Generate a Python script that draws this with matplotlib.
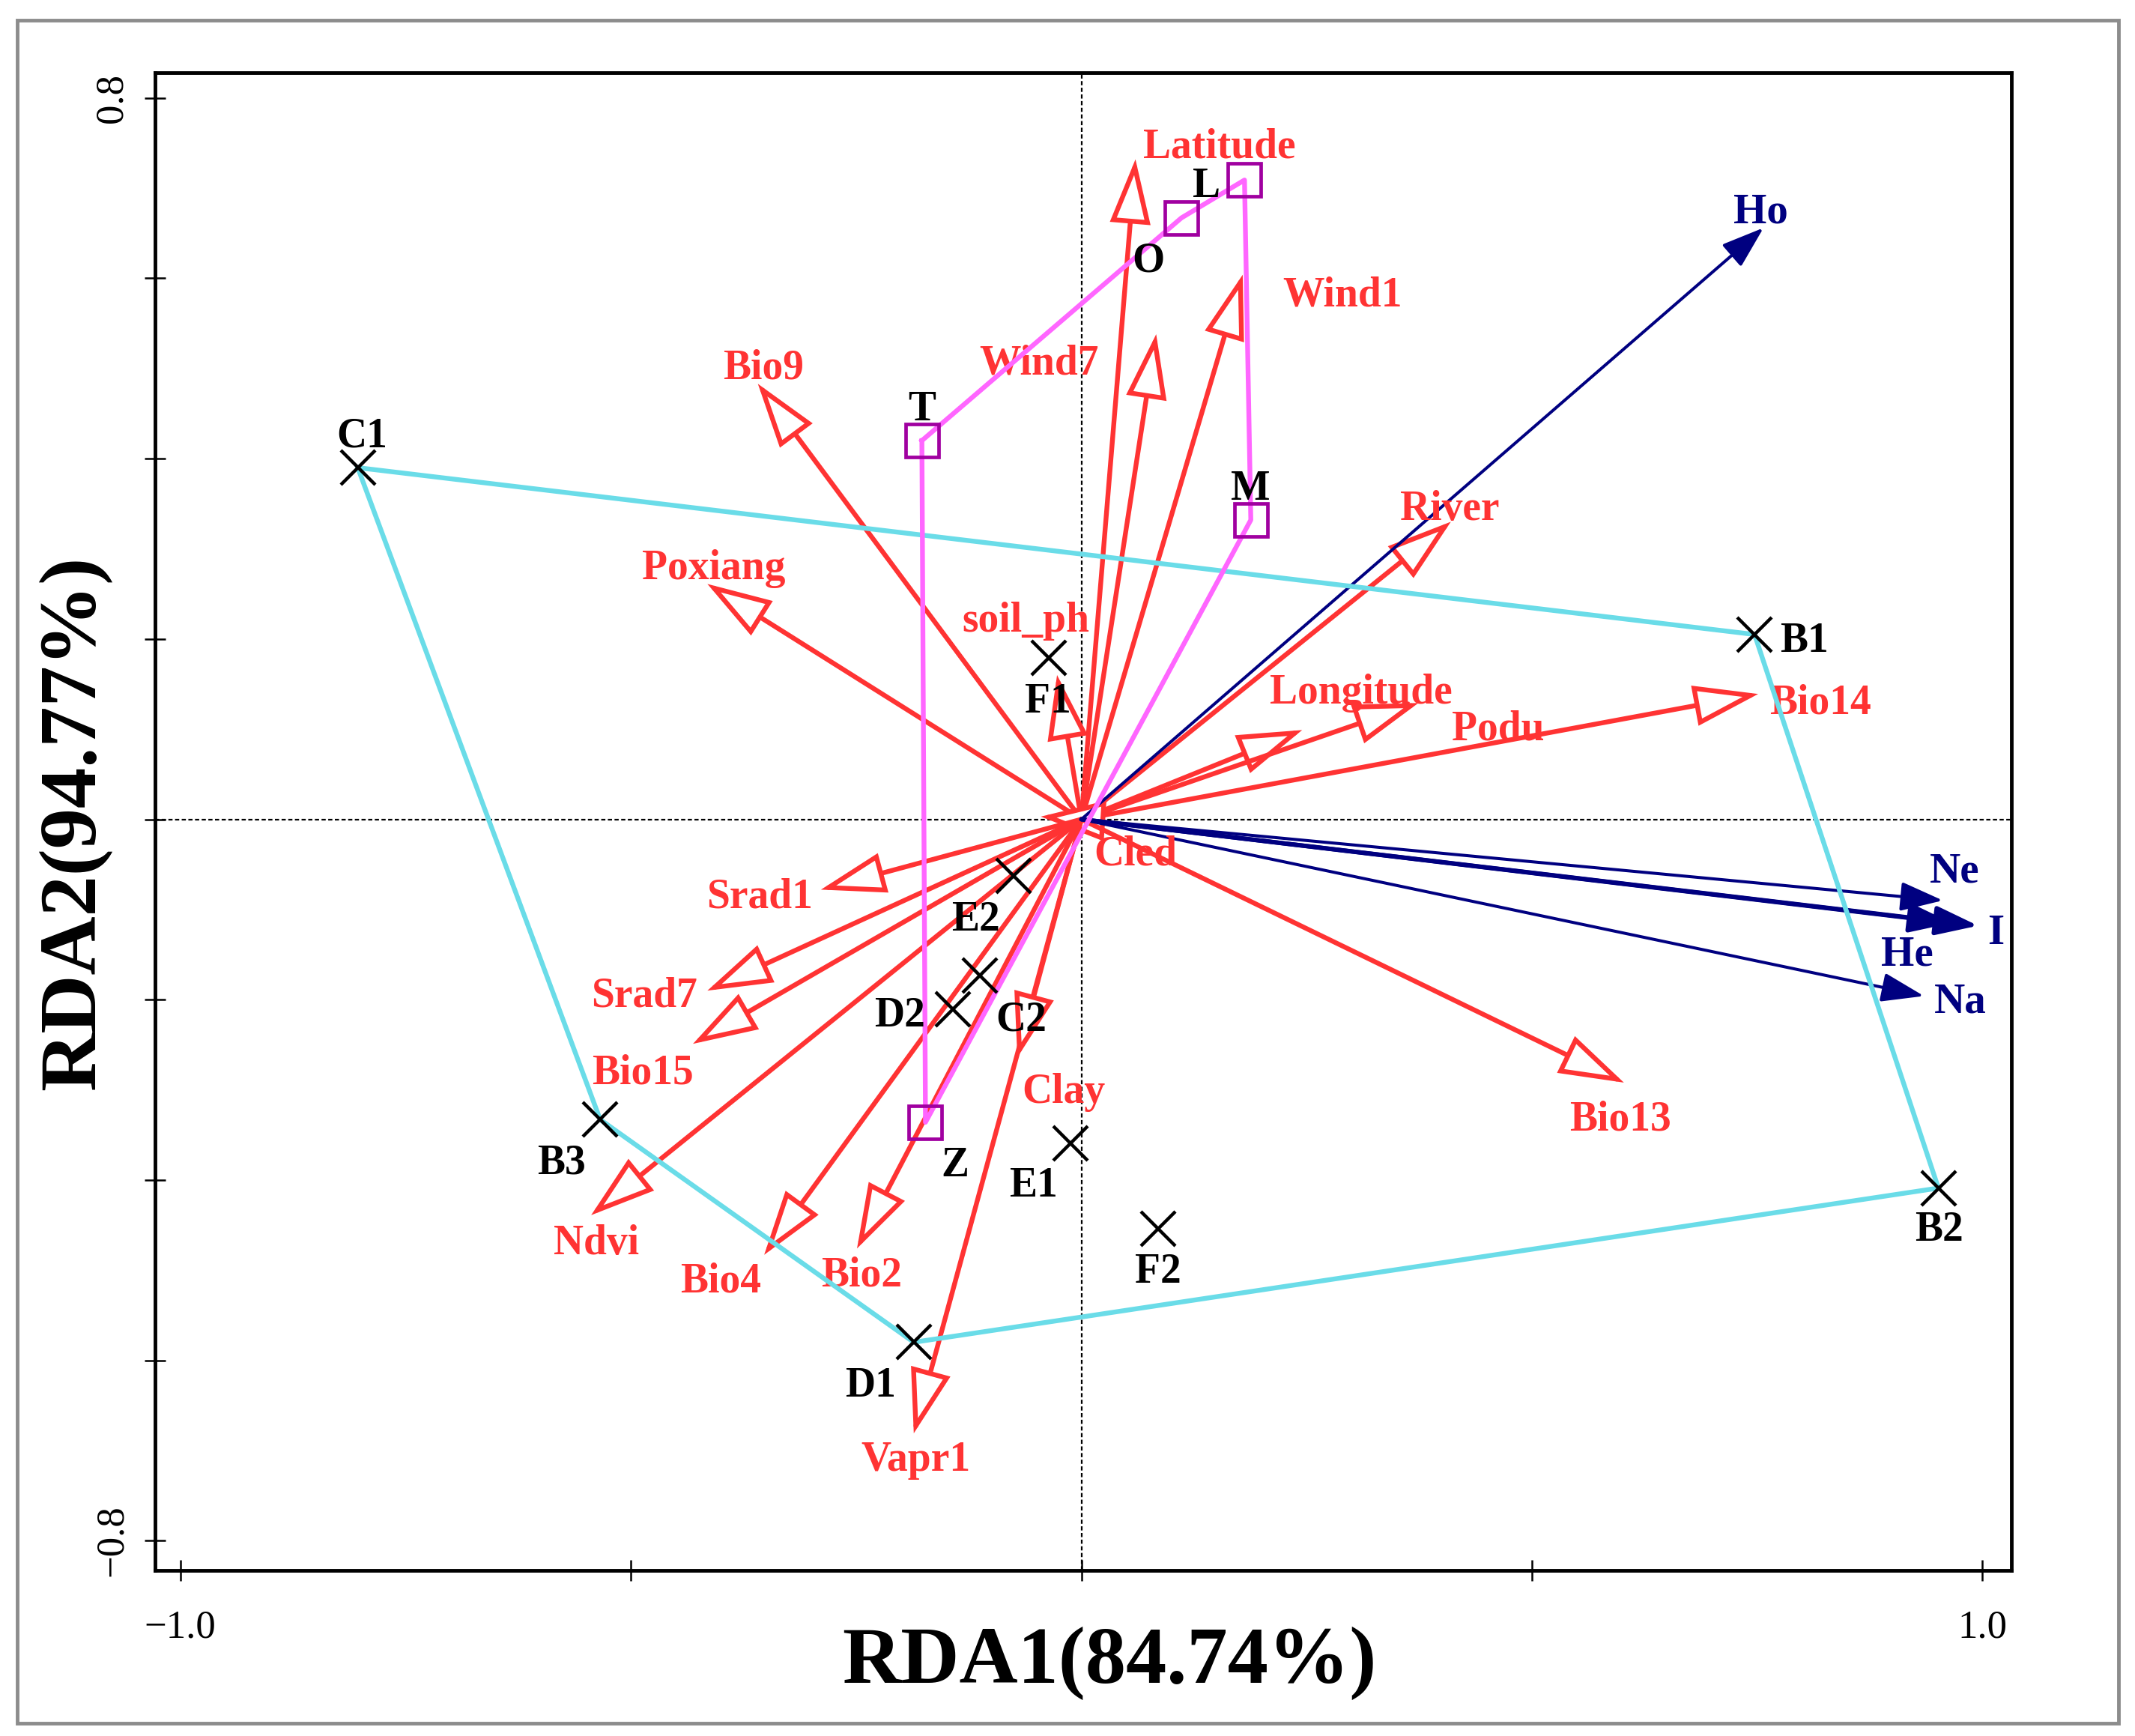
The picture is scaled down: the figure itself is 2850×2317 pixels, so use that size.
import matplotlib
matplotlib.use("Agg")
import matplotlib.pyplot as plt
from matplotlib.patches import FancyArrowPatch, ArrowStyle, Rectangle

plt.rcParams['font.family'] = ['Liberation Serif', 'DejaVu Serif']

# ---------------- data ----------------
env_names = ["Latitude", "Wind7", "Wind1", "Bio9", "Poxiang", "soil_ph", "River",
             "Longitude", "Podu", "Bio14", "Cled", "Srad1", "Srad7", "Bio15",
             "Ndvi", "Bio4", "Bio2", "Vapr1", "Clay", "Bio13"]
env_x = [0.060, 0.083, 0.179, -0.359, -0.415, -0.027, 0.410,
         0.245, 0.374, 0.751, -0.045, -0.289, -0.415, -0.431,
         -0.544, -0.352, -0.249, -0.186, -0.071, 0.602]
env_y = [0.732, 0.538, 0.604, 0.483, 0.261, 0.160, 0.330,
         0.099, 0.129, 0.139, 0.003, -0.078, -0.190, -0.249,
         -0.439, -0.483, -0.476, -0.681, -0.264, -0.292]
env_lab_x = [0.153, -0.047, 0.290, -0.353, -0.408, -0.062, 0.409,
             0.310, 0.462, 0.820, 0.060, -0.357, -0.485, -0.487,
             -0.538, -0.400, -0.244, -0.184, -0.020, 0.598]
env_lab_y = [0.745, 0.505, 0.581, 0.500, 0.278, 0.220, 0.344,
             0.140, 0.100, 0.129, -0.039, -0.086, -0.196, -0.282,
             -0.471, -0.513, -0.506, -0.711, -0.303, -0.333]

gen_names = ["Ho", "Ne", "He", "I", "Na"]
gen_x = [0.757, 0.956, 0.966, 0.995, 0.935]
gen_y = [0.656, -0.090, -0.115, -0.118, -0.196]
gen_lab_x = [0.754, 0.969, 0.916, 1.015, 0.975]
gen_lab_y = [0.673, -0.058, -0.150, -0.127, -0.203]
gen_lw = [2.9, 2.9, 4.2, 4.2, 2.9]

site_names = ["C1", "B1", "B2", "B3", "D1", "D2", "C2", "E2", "E1", "F1", "F2"]
site_x = [-0.803, 0.747, 0.951, -0.534, -0.186, -0.143, -0.113, -0.075, -0.012, -0.036, 0.085]
site_y = [0.390, 0.205, -0.409, -0.333, -0.580, -0.211, -0.173, -0.063, -0.359, 0.179, -0.454]
site_lab_x = [-0.798, 0.802, 0.952, -0.577, -0.234, -0.202, -0.067, -0.117, -0.053, -0.037, 0.085]
site_lab_y = [0.425, 0.197, -0.456, -0.381, -0.629, -0.218, -0.223, -0.112, -0.407, 0.130, -0.502]
site_hull = ["C1", "B1", "B2", "D1", "B3", "C1"]

pop_names = ["T", "O", "L", "M", "Z"]
pop_x = [-0.177, 0.111, 0.181, 0.188, -0.173]
pop_y = [0.420, 0.667, 0.709, 0.332, -0.336]
pop_lab_x = [-0.177, 0.074, 0.139, 0.188, -0.140]
pop_lab_y = [0.454, 0.619, 0.702, 0.366, -0.384]
pop_hull = ["T", "O", "L", "M", "Z", "T"]

x_ticks = [-1.0, -0.5, 0.0, 0.5, 1.0]
x_ticklabels = ["\u22121.0", "", "", "", "1.0"]
y_ticks = [-0.8, -0.6, -0.4, -0.2, 0.0, 0.2, 0.4, 0.6, 0.8]
y_ticklabels = ["\u22120.8", "", "", "", "", "", "", "", "0.8"]
x_label = "RDA1(84.74%)"
y_label = "RDA2(94.77%)"

# ---------------- style ----------------
RED = "#FF3333"
NAVY = "#000080"
CYAN = "#6ADCE8"
MAGENTA = "#FF66FF"
PURPLE = "#A000A0"
LAB = 40

fig = plt.figure(figsize=(28.5, 23.17), dpi=100)
ax = fig.add_axes([0.0726, 0.0954, 0.8695, 0.8627])
ax.set_xlim(-1.028, 1.032)
ax.set_ylim(-0.833, 0.828)

ax.axhline(0, color="black", lw=1.6, ls=(0, (2.5, 1.5)), zorder=1)
ax.axvline(0, color="black", lw=1.6, ls=(0, (2.5, 1.5)), zorder=1)

red_style = ArrowStyle("-|>", head_length=52, head_width=16.5)
for x, y in zip(env_x, env_y):
    ax.add_patch(FancyArrowPatch((0, 0), (x, y), arrowstyle=red_style, mutation_scale=1,
                                 shrinkA=0, shrinkB=0, lw=4.6, edgecolor=RED,
                                 facecolor="white", joinstyle="miter", zorder=3))
for name, x, y in zip(env_names, env_lab_x, env_lab_y):
    ax.text(x, y, name, color=RED, fontsize=LAB, fontweight="bold",
            ha="center", va="center", zorder=5)

navy_style = ArrowStyle("-|>", head_length=35, head_width=12)
for x, y, lw in zip(gen_x, gen_y, gen_lw):
    ax.add_patch(FancyArrowPatch((0, 0), (x, y), arrowstyle=navy_style, mutation_scale=1,
                                 shrinkA=0, shrinkB=0, lw=lw, edgecolor=NAVY,
                                 facecolor=NAVY, zorder=4))
for name, x, y in zip(gen_names, gen_lab_x, gen_lab_y):
    ax.text(x, y, name, color=NAVY, fontsize=LAB + 1, fontweight="bold",
            ha="center", va="center", zorder=5)

# hulls
sx = dict(zip(site_names, site_x)); sy = dict(zip(site_names, site_y))
ax.plot([sx[n] for n in site_hull], [sy[n] for n in site_hull], color=CYAN, lw=4.6, zorder=6)
px = dict(zip(pop_names, pop_x)); py = dict(zip(pop_names, pop_y))
ax.plot([px[n] for n in pop_hull], [py[n] for n in pop_hull], color=MAGENTA, lw=4.6, zorder=6)

ax.plot(site_x, site_y, ls="none", marker="x", ms=33, mew=3.2, color="black", zorder=7)
for name, x, y in zip(site_names, site_lab_x, site_lab_y):
    ax.text(x, y, name, color="black", fontsize=LAB, fontweight="bold",
            ha="center", va="center", zorder=8)

ax.plot(pop_x, pop_y, ls="none", marker="s", ms=31, mew=3.4, mec=PURPLE, mfc="none", zorder=7)
for name, x, y in zip(pop_names, pop_lab_x, pop_lab_y):
    ax.text(x, y, name, color="black", fontsize=LAB, fontweight="bold",
            ha="center", va="center", zorder=8)

# axes
for s in ax.spines.values():
    s.set_linewidth(3.5)
ax.set_xticks(x_ticks)
ax.set_xticklabels(x_ticklabels)
ax.set_yticks(y_ticks)
ax.set_yticklabels(y_ticklabels, rotation=90, va="center")
ax.tick_params(direction="inout", length=20, width=1.8, labelsize=38)
ax.tick_params(axis="x", pad=28)
ax.tick_params(axis="y", pad=14)

ax.set_xlabel(x_label, fontsize=78, fontweight="bold", va="center")
ax.xaxis.set_label_coords(0.514, -0.062)
ax.set_ylabel(y_label, fontsize=78, fontweight="bold", va="center")
ax.yaxis.set_label_coords(-0.043, 0.499)

fig.patches.append(Rectangle((23 / 2850, 1 - 2300 / 2317), (2828 - 23) / 2850, (2300 - 27) / 2317,
                             transform=fig.transFigure, fill=False, ec="#8C8C8C", lw=3.5))

fig.savefig("out.png", dpi=100)
